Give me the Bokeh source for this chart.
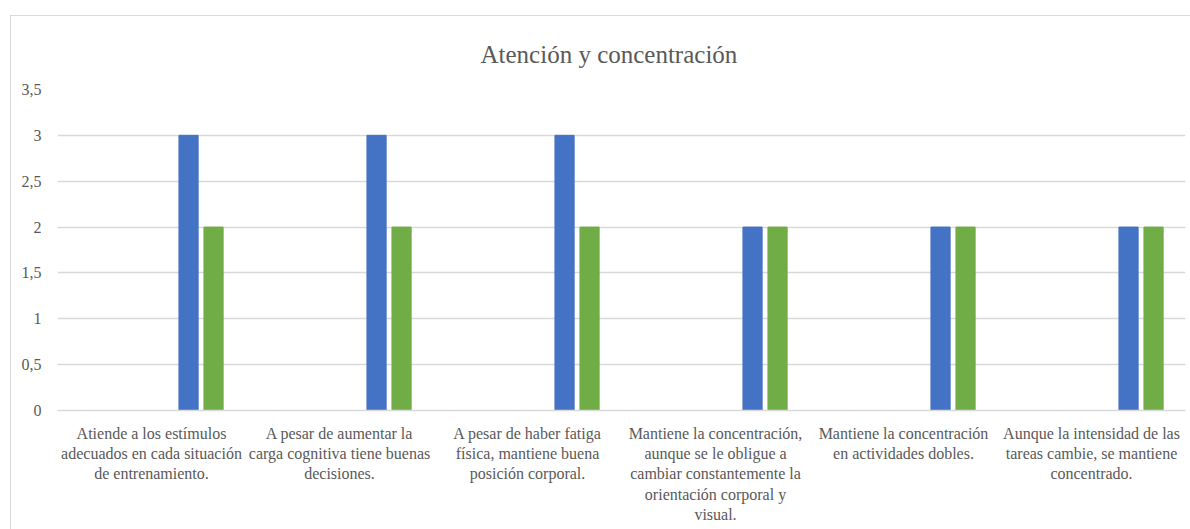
from bokeh.plotting import figure
from bokeh.models import FixedTicker, Range1d, ColumnDataSource
from bokeh.embed import file_html
from bokeh.resources import INLINE

# Data
categories = [
    "Atiende a los estímulos\nadecuados en cada situación\nde entrenamiento.",
    "A pesar de aumentar la\ncarga cognitiva tiene buenas\ndecisiones.",
    "A pesar de haber fatiga\nfísica, mantiene buena\nposición corporal.",
    "Mantiene la concentración,\naunque se le obligue a\ncambiar constantemente la\norientación corporal y\nvisual.",
    "Mantiene la concentración\nen actividades dobles.",
    "Aunque la intensidad de las\ntareas cambie, se mantiene\nconcentrado.",
]
serie_azul = [3, 3, 3, 2, 2, 2]
serie_verde = [2, 2, 2, 2, 2, 2]
y_ticks = [0, 0.5, 1, 1.5, 2, 2.5, 3, 3.5]
y_tick_labels = ["0", "0,5", "1", "1,5", "2", "2,5", "3", "3,5"]

TEXT = "#595959"
GRID = "#d9d9d9"
FONT = "Liberation Serif"

n = len(categories)
idx = list(range(n))
bar_w = 0.102
src_a = ColumnDataSource(dict(x=[i + 0.697 for i in idx], top=serie_azul))
src_v = ColumnDataSource(dict(x=[i + 0.830 for i in idx], top=serie_verde))

p = figure(
    width=1180, height=514,
    x_range=Range1d(0, n), y_range=Range1d(0, 3.5),
    output_backend="svg", toolbar_location=None,
    min_border_left=46, min_border_right=6,
    min_border_top=73, min_border_bottom=120,
    title="Atención y concentración",
)
p.margin = (15, 0, 0, 10)
p.styles = {"border-left": f"1px solid {GRID}", "border-top": f"1px solid {GRID}"}
p.outline_line_color = None
p.background_fill_color = "white"
p.border_fill_color = "white"

p.title.align = "left"
p.title.offset = 423
p.title.text_font = FONT
p.title.text_font_size = "25px"
p.title.text_font_style = "normal"
p.title.text_color = TEXT
p.title.text_line_height = 1.0
p.title.standoff = 44

p.vbar(x="x", top="top", width=bar_w, source=src_a, color="#4472C4")
p.vbar(x="x", top="top", width=bar_w, source=src_v, color="#70AD47")

# y axis
ya = p.yaxis[0]
ya.ticker = FixedTicker(ticks=y_ticks)
ya.major_label_overrides = {t: s for t, s in zip(y_ticks, y_tick_labels)}
ya.axis_line_color = None
ya.major_tick_line_color = None
ya.minor_tick_line_color = None
ya.major_label_standoff = 10
ya.major_label_text_font = FONT
ya.major_label_text_font_size = "16px"
ya.major_label_text_color = TEXT

# x axis with wrapped category labels
xa = p.xaxis[0]
xa.ticker = FixedTicker(ticks=[i + 0.5 for i in idx])
xa.major_label_overrides = {i + 0.5: c for i, c in zip(idx, categories)}
xa.axis_line_color = GRID
xa.axis_line_width = 1.5
xa.major_tick_line_color = None
xa.minor_tick_line_color = None
xa.major_label_standoff = 8
xa.major_label_text_font = FONT
xa.major_label_text_font_size = "16px"
xa.major_label_text_color = TEXT

p.xgrid.grid_line_color = None
p.ygrid.ticker = FixedTicker(ticks=y_ticks)
p.ygrid.grid_line_color = GRID
p.ygrid.grid_line_width = 1.5

open("out.html", "w").write(file_html(p, INLINE))
